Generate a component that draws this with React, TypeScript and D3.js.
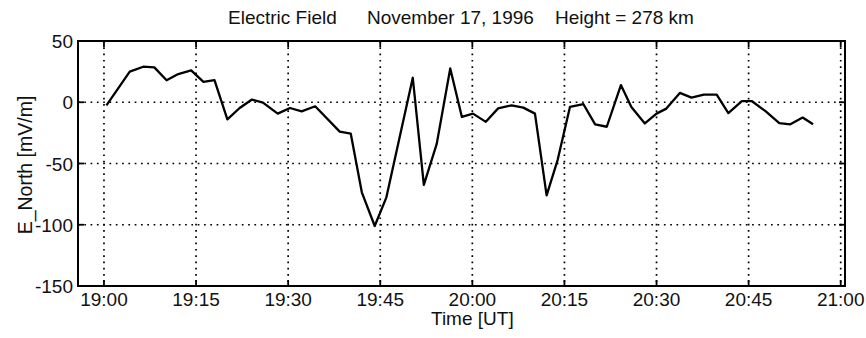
import React from "react";
import * as d3 from "d3";

// minutes after 19:00 UT
const minutes = [
  0.4, 4.2, 6.4, 8.2, 10.2, 12.1, 14.2, 16.2, 18.0, 20.1, 22.1, 24.1, 25.9, 28.3, 30.3, 32.2, 34.4,
  38.4, 40.2, 42.0, 44.1, 46.0, 50.3, 52.1, 54.2, 56.4, 58.3, 60.1, 62.2, 64.2, 66.4, 68.3, 70.2,
  72.1, 73.9, 75.9, 78.1, 80.0, 81.9, 84.2, 85.9, 88.1, 90.0, 91.6, 93.8, 95.7, 97.7, 99.8, 101.7,
  103.9, 105.5, 107.7, 110.0, 111.8, 113.8, 115.5,
];
const eNorth = [
  -2.5, 25, 29, 28.5, 18, 23, 26, 16.6, 18, -14, -4.7, 2.2, -0.3, -9.3, -4.7, -7.4, -3.3,
  -24, -25.7, -73.5, -101, -77.6, 20, -67.5, -34, 27.6, -12, -9.3, -16, -5, -2.5, -4.4, -9.3,
  -76, -47, -3.8, -1.6, -18, -20, 14, -3.8, -17.3, -9.3, -5.2, 7.6, 3.8, 6.3, 6.3, -8.8,
  1, 1, -7.1, -17, -18, -12.5, -18,
];
const xTickMinutes = [0, 15, 30, 45, 60, 75, 90, 105, 120];
const xTickLabels = ["19:00", "19:15", "19:30", "19:45", "20:00", "20:15", "20:30", "20:45", "21:00"];
const yTicks = [50, 0, -50, -100, -150];
const yGrid = [0, -50, -100];

const W = 866;
const H = 338;
const L = 78, R = 845, T = 41, B = 286;

export default function App() {
  const x = d3.scaleLinear().domain([-4.23, 120.7]).range([L, R]);
  const y = d3.scaleLinear().domain([-150, 50]).range([B, T]);
  const line = d3
    .line<number>()
    .x((_, i) => x(minutes[i]))
    .y((d) => y(d));
  const font = "'Liberation Sans', Arial, Helvetica, sans-serif";
  const fs = 19;
  return (
    <svg
      width={W}
      height={H}
      style={{ position: "absolute", left: 0, top: 0, background: "#fff", display: "block" }}
    >
      <rect x={0} y={0} width={W} height={H} fill="#fff" />
      {/* grid */}
      {xTickMinutes.map((m) => (
        <line
          key={"vg" + m}
          x1={x(m)}
          x2={x(m)}
          y1={T}
          y2={B}
          stroke="#000"
          strokeWidth={1.7}
          strokeDasharray="1.7,4.6"
        />
      ))}
      {yGrid.map((v) => (
        <line
          key={"hg" + v}
          x1={L}
          x2={R}
          y1={y(v)}
          y2={y(v)}
          stroke="#000"
          strokeWidth={1.7}
          strokeDasharray="1.7,4.6"
        />
      ))}
      {/* ticks */}
      {xTickMinutes.map((m) => (
        <g key={"xt" + m}>
          <line x1={x(m)} x2={x(m)} y1={B} y2={B - 6} stroke="#000" strokeWidth={1.8} />
          <line x1={x(m)} x2={x(m)} y1={T} y2={T + 6} stroke="#000" strokeWidth={1.8} />
        </g>
      ))}
      {yTicks.map((v) => (
        <g key={"yt" + v}>
          <line x1={L} x2={L + 6} y1={y(v)} y2={y(v)} stroke="#000" strokeWidth={1.8} />
          <line x1={R} x2={R - 6} y1={y(v)} y2={y(v)} stroke="#000" strokeWidth={1.8} />
        </g>
      ))}
      {/* frame */}
      <rect x={L} y={T} width={R - L} height={B - T} fill="none" stroke="#000" strokeWidth={2} />
      {/* data */}
      <path d={line(eNorth) || ""} fill="none" stroke="#000" strokeWidth={2.3} strokeLinejoin="round" />
      {/* y labels */}
      {yTicks.map((v) => (
        <text
          key={"yl" + v}
          x={L - 5}
          y={y(v) + 7}
          textAnchor="end"
          fontFamily={font}
          fontSize={fs}
          fill="#111"
        >
          {v}
        </text>
      ))}
      {xTickMinutes.map((m, i) => (
        <text
          key={"xl" + m}
          x={x(m)}
          y={B + 20}
          textAnchor="middle"
          fontFamily={font}
          fontSize={fs}
          fill="#111"
        >
          {xTickLabels[i]}
        </text>
      ))}
      <text x={x(60)} y={B + 39} textAnchor="middle" fontFamily={font} fontSize={fs} fill="#111">
        Time [UT]
      </text>
      <text
        transform={`translate(32, 165) rotate(-90)`}
        textAnchor="middle"
        fontFamily={font}
        fontSize={19.5}
        fill="#111"
      >
        E_North [mV/m]
      </text>
      <text x={228} y={24} fontFamily={font} fontSize={fs} fill="#111">
        Electric Field
      </text>
      <text x={367} y={24} fontFamily={font} fontSize={fs} fill="#111">
        November 17, 1996
      </text>
      <text x={555} y={24} fontFamily={font} fontSize={fs} fill="#111">
        Height = 278 km
      </text>
    </svg>
  );
}
